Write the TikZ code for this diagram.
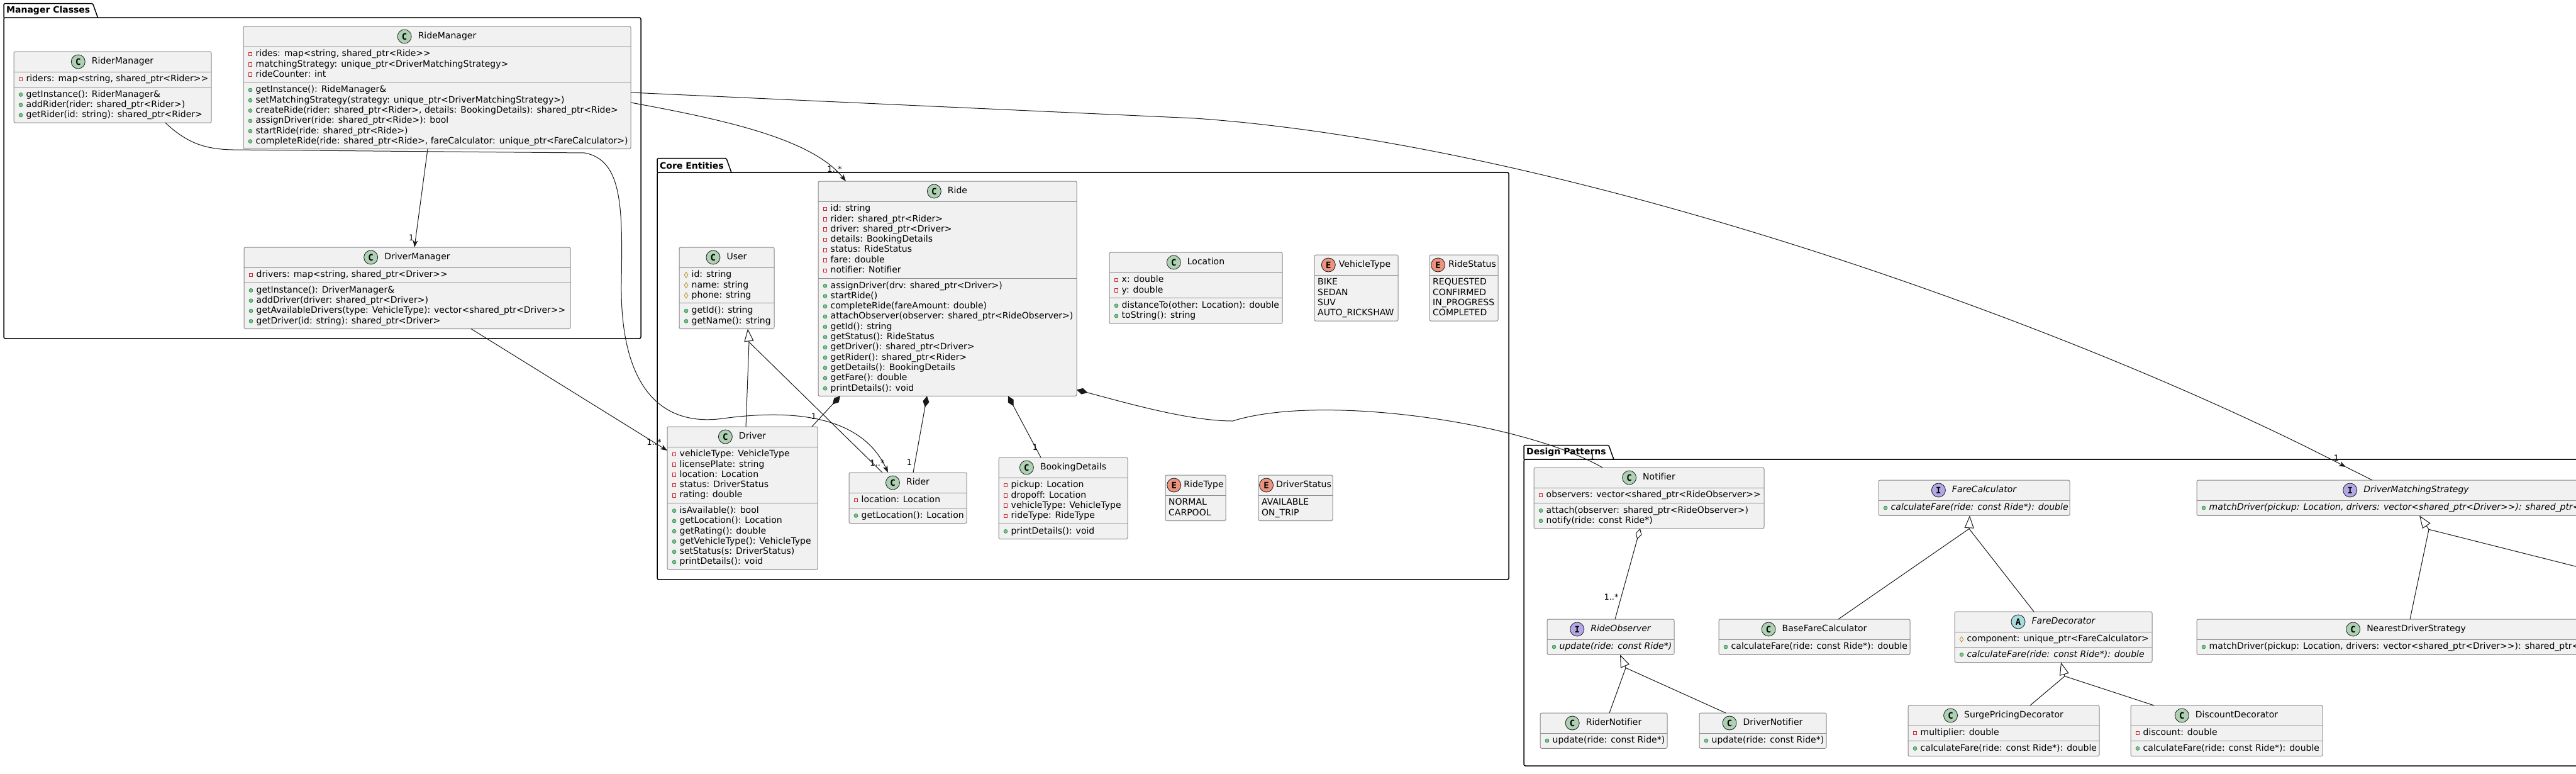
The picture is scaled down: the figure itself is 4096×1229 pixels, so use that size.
\documentclass[tikz,border=0pt]{standalone}
\usepackage{fontspec}
\setmainfont[Ligatures={TeXOff,CommonOff}]{DejaVu Sans}
\newfontfamily\iconfont{DejaVu Sans Mono}
\usetikzlibrary{arrows.meta,shapes.geometric,positioning,calc}
\definecolor{boxfill}{HTML}{F1F1F1}
\definecolor{boxline}{HTML}{8A8A8A}
\definecolor{linec}{HTML}{181818}
\definecolor{cfill}{HTML}{ADD1B2}
\definecolor{ifill}{HTML}{B4A7E5}
\definecolor{afill}{HTML}{A9DCDF}
\definecolor{efill}{HTML}{EB937F}
\definecolor{privred}{HTML}{C82930}
\definecolor{pubfill}{HTML}{84BE84}
\definecolor{publine}{HTML}{038048}
\definecolor{protline}{HTML}{B38D22}
\tikzset{
    cls/.style={draw=boxline, fill=boxfill, line width=1pt, rounded corners=2.5pt, anchor=north west, inner sep=0pt, outer sep=0pt},
    cmpline/.style={draw=boxline, line width=1pt},
    clsname/.style={inner sep=0pt, text height=10.4pt, text depth=2.9pt, font=\fontsize{14}{16}\selectfont},
    itname/.style={font=\fontsize{14}{16}\selectfont\itshape},
    icon/.style={circle, draw=linec, line width=0.8pt, minimum size=22pt, inner sep=0pt, font=\iconfont\bfseries\fontsize{14}{14}\selectfont},
    member/.style={anchor=west, inner sep=0pt, text height=10.4pt, text depth=2.9pt, font=\fontsize{14}{16}\selectfont},
    vm-priv/.style={draw=privred, line width=0.8pt, minimum size=5.5pt, inner sep=0pt},
    vm-pub/.style={circle, fill=pubfill, draw=publine, line width=0.5pt, minimum size=6pt, inner sep=0pt},
    vm-pubi/.style={vm-pub},
    vm-prot/.style={diamond, draw=protline, line width=0.8pt, minimum width=6pt, minimum height=9pt, inner sep=0pt},
    vm-none/.style={},
    tx-priv/.style={}, tx-pub/.style={}, tx-prot/.style={},
    tx-pubi/.style={font=\fontsize{14}{16}\selectfont\itshape},
    tx-none/.style={xshift=-14.5pt},
    conn/.style={draw=linec, line width=1pt},
    assoc/.style={conn, -{Stealth[length=11pt, width=8pt, inset=3pt]}},
    inherit/.style={conn, -{Triangle[length=20pt, width=15pt, fill=white]}},
    compose/.style={conn, {Diamond[length=18pt, width=10pt]}-},
    aggreg/.style={conn, {Diamond[length=18pt, width=10pt, fill=white]}-},
    mult/.style={inner sep=0pt, font=\fontsize{13}{13}\selectfont},
    pkg/.style={draw=black, line width=1.5pt},
    pkgtitle/.style={anchor=south west, inner xsep=4pt, inner ysep=0pt, minimum height=22pt, font=\bfseries\fontsize{14}{16}\selectfont}
}
\newcommand{\clshead}[6][10]{%
  \node[clsname, #5] (#2-t) at ([xshift={(22+#1)/2}, yshift=-16pt]#2.north) {#6};
  \node[icon, fill=#3, left=#1pt of #2-t] {#4};
}
\newcommand{\clssep}[2]{\draw[cmpline] ([yshift=-#2pt]#1.north west) -- ([yshift=-#2pt]#1.north east);}
\newcommand{\clsrows}[3]{%
  \foreach \vis/\txt [count=\k from 0] in {#3} {%
    \node[vm-\vis] at ([xshift=11pt, yshift={-(#2+\k*16.3)}]#1.north west) {};
    \node[member, tx-\vis] at ([xshift=19.5pt, yshift={-(#2+\k*16.3)}]#1.north west) {\txt};
  }%
}

\begin{document}
\begin{tikzpicture}[x=1pt, y=-1pt]
    \useasboundingbox (0,0) rectangle (4096,1229);
    \clip (0,0) rectangle (4096,1229);
    \fill[white] (0,0) rectangle (4096,1229);

    \node[pkgtitle] (pmgr) at (6,28) {Manager Classes};
    \draw[pkg, rounded corners=1.5pt] (pmgr.south west) -- (pmgr.north west) -- (pmgr.north east) -- ([xshift=8pt]pmgr.south east);
    \draw[pkg, rounded corners=2.5pt] (pmgr.south west) rectangle (1019,538);
    \node[pkgtitle] (pcore) at (1045,274) {Core Entities};
    \draw[pkg, rounded corners=1.5pt] (pcore.south west) -- (pcore.north west) -- (pcore.north east) -- ([xshift=8pt]pcore.south east);
    \draw[pkg, rounded corners=2.5pt] (pcore.south west) rectangle (2399,921);
    \node[pkgtitle] (pdes) at (2423,730) {Design Patterns};
    \draw[pkg, rounded corners=1.5pt] (pdes.south west) -- (pdes.north west) -- (pdes.north east) -- ([xshift=8pt]pdes.south east);
    \draw[pkg, rounded corners=2.5pt] (pdes.south west) rectangle (4150,1217);

    \node[cls, minimum width=314pt, minimum height=113.2pt] (rdmgr) at (22,82) {};
    \clshead{rdmgr}{cfill}{C}{}{RiderManager}
    \clssep{rdmgr}{32} \clssep{rdmgr}{56.3}
    \clsrows{rdmgr}{44}{priv/{riders: map<string, shared\_ptr<Rider>>}}
    \clsrows{rdmgr}{68.45}{pub/{getInstance(): RiderManager\&}, pub/{addRider(rider: shared\_ptr<Rider>)}, pub/{getRider(id: string): shared\_ptr<Rider>}}

    \node[cls, minimum width=616pt, minimum height=194.7pt] (rmgr) at (387,42) {};
    \clshead{rmgr}{cfill}{C}{}{RideManager}
    \clssep{rmgr}{32} \clssep{rmgr}{88.9}
    \clsrows{rmgr}{44}{priv/{rides: map<string, shared\_ptr<Ride>>}, priv/{matchingStrategy: unique\_ptr<DriverMatchingStrategy>}, priv/{rideCounter: int}}
    \clsrows{rmgr}{101.05}{pub/{getInstance(): RideManager\&}, pub/{setMatchingStrategy(strategy: unique\_ptr<DriverMatchingStrategy>)}, pub/{createRide(rider: shared\_ptr<Rider>, details: BookingDetails): shared\_ptr<Ride>}, pub/{assignDriver(ride: shared\_ptr<Ride>): bool}, pub/{startRide(ride: shared\_ptr<Ride>)}, pub/{completeRide(ride: shared\_ptr<Ride>, fareCalculator: unique\_ptr<FareCalculator>)}}

    \node[cls, minimum width=519pt, minimum height=129.5pt] (dmgr) at (388,393) {};
    \clshead{dmgr}{cfill}{C}{}{DriverManager}
    \clssep{dmgr}{32} \clssep{dmgr}{56.3}
    \clsrows{dmgr}{44}{priv/{drivers: map<string, shared\_ptr<Driver>>}}
    \clsrows{dmgr}{68.45}{pub/{getInstance(): DriverManager\&}, pub/{addDriver(driver: shared\_ptr<Driver>)}, pub/{getAvailableDrivers(type: VehicleType): vector<shared\_ptr<Driver>>}, pub/{getDriver(id: string): shared\_ptr<Driver>}}

    \node[cls, minimum width=151pt, minimum height=129.5pt] (user) at (1080,393) {};
    \clshead{user}{cfill}{C}{}{User}
    \clssep{user}{32} \clssep{user}{88.9}
    \clsrows{user}{44}{prot/{id: string}, prot/{name: string}, prot/{phone: string}}
    \clsrows{user}{101.05}{pub/{getId(): string}, pub/{getName(): string}}

    \node[cls, minimum width=411pt, minimum height=341.4pt] (ride) at (1301,288) {};
    \clshead{ride}{cfill}{C}{}{Ride}
    \clssep{ride}{32} \clssep{ride}{154.1}
    \clsrows{ride}{44}{priv/{id: string}, priv/{rider: shared\_ptr<Rider>}, priv/{driver: shared\_ptr<Driver>}, priv/{details: BookingDetails}, priv/{status: RideStatus}, priv/{fare: double}, priv/{notifier: Notifier}}
    \clsrows{ride}{166.25}{pub/{assignDriver(drv: shared\_ptr<Driver>)}, pub/{startRide()}, pub/{completeRide(fareAmount: double)}, pub/{attachObserver(observer: shared\_ptr<RideObserver>)}, pub/{getId(): string}, pub/{getStatus(): RideStatus}, pub/{getDriver(): shared\_ptr<Driver>}, pub/{getRider(): shared\_ptr<Rider>}, pub/{getDetails(): BookingDetails}, pub/{getFare(): double}, pub/{printDetails(): void}}

    \node[cls, minimum width=275pt, minimum height=113.2pt] (loc) at (1764,401) {};
    \clshead{loc}{cfill}{C}{}{Location}
    \clssep{loc}{32} \clssep{loc}{72.6}
    \clsrows{loc}{44}{priv/{x: double}, priv/{y: double}}
    \clsrows{loc}{84.75}{pub/{distanceTo(other: Location): double}, pub/{toString(): string}}

    \node[cls, minimum width=133pt, minimum height=105.2pt] (vtype) at (2090,405) {};
    \clshead[5]{vtype}{efill}{E}{}{VehicleType}
    \clssep{vtype}{32}
    \clsrows{vtype}{44}{none/BIKE, none/SEDAN, none/SUV, none/{AUTO\_RICKSHAW}}

    \node[cls, minimum width=109pt, minimum height=105.2pt] (rstatus) at (2273,405) {};
    \clshead[5]{rstatus}{efill}{E}{}{RideStatus}
    \clssep{rstatus}{32}
    \clsrows{rstatus}{44}{none/REQUESTED, none/CONFIRMED, none/{IN\_PROGRESS}, none/COMPLETED}

    \node[cls, minimum width=239pt, minimum height=227.3pt] (driver) at (1061,678) {};
    \clshead{driver}{cfill}{C}{}{Driver}
    \clssep{driver}{32} \clssep{driver}{121.5}
    \clsrows{driver}{44}{priv/{vehicleType: VehicleType}, priv/{licensePlate: string}, priv/{location: Location}, priv/{status: DriverStatus}, priv/{rating: double}}
    \clsrows{driver}{133.65}{pub/{isAvailable(): bool}, pub/{getLocation(): Location}, pub/{getRating(): double}, pub/{getVehicleType(): VehicleType}, pub/{setStatus(s: DriverStatus)}, pub/{printDetails(): void}}

    \node[cls, minimum width=187pt, minimum height=80.6pt] (rider) at (1350,751) {};
    \clshead{rider}{cfill}{C}{}{Rider}
    \clssep{rider}{32} \clssep{rider}{56.3}
    \clsrows{rider}{44}{priv/{location: Location}}
    \clsrows{rider}{68.45}{pub/{getLocation(): Location}}

    \node[cls, minimum width=205pt, minimum height=129.5pt] (bkg) at (1588,727) {};
    \clshead{bkg}{cfill}{C}{}{BookingDetails}
    \clssep{bkg}{32} \clssep{bkg}{105.2}
    \clsrows{bkg}{44}{priv/{pickup: Location}, priv/{dropoff: Location}, priv/{vehicleType: VehicleType}, priv/{rideType: RideType}}
    \clsrows{bkg}{117.35}{pub/{printDetails(): void}}

    \node[cls, minimum width=96pt, minimum height=72.6pt] (rtype) at (1853,755) {};
    \clshead[4]{rtype}{efill}{E}{}{RideType}
    \clssep{rtype}{32}
    \clsrows{rtype}{44}{none/NORMAL, none/CARPOOL}

    \node[cls, minimum width=118pt, minimum height=72.6pt] (dstatus) at (2001,755) {};
    \clshead[4]{dstatus}{efill}{E}{}{DriverStatus}
    \clssep{dstatus}{32}
    \clsrows{dstatus}{44}{none/AVAILABLE, none/{ON\_TRIP}}

    \node[cls, minimum width=366pt, minimum height=96.9pt] (notif) at (2439,743) {};
    \clshead{notif}{cfill}{C}{}{Notifier}
    \clssep{notif}{32} \clssep{notif}{56.3}
    \clsrows{notif}{44}{priv/{observers: vector<shared\_ptr<RideObserver>>}}
    \clsrows{notif}{68.45}{pub/{attach(observer: shared\_ptr<RideObserver>)}, pub/{notify(ride: const Ride*)}}

    \node[cls, minimum width=202pt, minimum height=56.3pt] (robs) at (2460,984) {};
    \clshead{robs}{ifill}{I}{itname}{RideObserver}
    \clssep{robs}{32}
    \clsrows{robs}{44}{pubi/{update(ride: const Ride*)}}

    \node[cls, minimum width=304pt, minimum height=56.3pt] (bfc) at (2733,984) {};
    \clshead{bfc}{cfill}{C}{}{BaseFareCalculator}
    \clssep{bfc}{32}
    \clsrows{bfc}{44}{pub/{calculateFare(ride: const Ride*): double}}

    \node[cls, minimum width=202pt, minimum height=56.3pt] (rnot) at (2449,1133) {};
    \clshead{rnot}{cfill}{C}{}{RiderNotifier}
    \clssep{rnot}{32}
    \clsrows{rnot}{44}{pub/{update(ride: const Ride*)}}

    \node[cls, minimum width=202pt, minimum height=56.3pt] (dnot) at (2702,1133) {};
    \clshead{dnot}{cfill}{C}{}{DriverNotifier}
    \clssep{dnot}{32}
    \clsrows{dnot}{44}{pub/{update(ride: const Ride*)}}

    \node[cls, minimum width=304pt, minimum height=56.3pt] (fcalc) at (2987,763) {};
    \clshead{fcalc}{ifill}{I}{itname}{FareCalculator}
    \clssep{fcalc}{32}
    \clsrows{fcalc}{44}{pubi/{calculateFare(ride: const Ride*): double}}

    \node[cls, minimum width=314pt, minimum height=80.6pt] (fdec) at (3108,972) {};
    \clshead{fdec}{afill}{A}{itname}{FareDecorator}
    \clssep{fdec}{32} \clssep{fdec}{56.3}
    \clsrows{fdec}{44}{prot/{component: unique\_ptr<FareCalculator>}}
    \clsrows{fdec}{68.45}{pubi/{calculateFare(ride: const Ride*): double}}

    \node[cls, minimum width=304pt, minimum height=80.6pt] (surge) at (3034,1121) {};
    \clshead{surge}{cfill}{C}{}{SurgePricingDecorator}
    \clssep{surge}{32} \clssep{surge}{56.3}
    \clsrows{surge}{44}{priv/{multiplier: double}}
    \clsrows{surge}{68.45}{pub/{calculateFare(ride: const Ride*): double}}

    \node[cls, minimum width=305pt, minimum height=80.6pt] (disc) at (3388,1121) {};
    \clshead{disc}{cfill}{C}{}{DiscountDecorator}
    \clssep{disc}{32} \clssep{disc}{56.3}
    \clsrows{disc}{44}{priv/{discount: double}}
    \clsrows{disc}{68.45}{pub/{calculateFare(ride: const Ride*): double}}

    \node[cls, minimum width=666pt, minimum height=56.3pt] (dms) at (3493,763) {};
    \clshead{dms}{ifill}{I}{itname}{DriverMatchingStrategy}
    \clssep{dms}{32}
    \clsrows{dms}{44}{pubi/{matchDriver(pickup: Location, drivers: vector<shared\_ptr<Driver>>): shared\_ptr<Driver>}}

    \node[cls, minimum width=666pt, minimum height=56.3pt] (nds) at (3493,984) {};
    \clshead{nds}{cfill}{C}{}{NearestDriverStrategy}
    \clssep{nds}{32}
    \clsrows{nds}{44}{pub/{matchDriver(pickup: Location, drivers: vector<shared\_ptr<Driver>>): shared\_ptr<Driver>}}

    \draw[assoc] ([xshift=293pt]rmgr.south west) -- node[mult, at end, xshift=-5pt, yshift=15pt] {1} ([xshift=271pt]dmgr.north west);
    \draw[assoc] ([yshift=-121pt]rmgr.north east) .. controls +(147,27) and +(-55,-68) .. node[mult, at end, xshift=-18pt, yshift=19pt] {1..*} ([xshift=44pt]ride.north west);
    \coordinate (dmsarr) at ([xshift=-96pt, yshift=21pt]dms.north);
    \draw[assoc] ([yshift=-105pt]rmgr.north east) -- ++(897,41) .. controls +(600,42) and +(-430,-222) .. node[mult, at end, xshift=-15pt, yshift=14pt] {1} (dmsarr);
    \draw[conn] (dmsarr) -- ([xshift=-54pt]dms.north);
    \draw[assoc] ([xshift=241pt]rdmgr.south west) .. controls (300,230) and (330,237) .. (370,238) -- (930,243) .. controls (990,255) and (990,330) .. (988,450) .. controls (986,600) and (1040,680) .. (1150,665) .. controls (1260,650) and (1370,660) .. node[mult, at end, xshift=-17pt, yshift=15pt] {1..*} ([xshift=62pt]rider.north west);
    \draw[assoc] ([xshift=361pt]dmgr.south west) -- node[mult, at end, xshift=-21pt, yshift=13pt] {1..*} ([yshift=-38pt]driver.north west);

    \draw[compose] ([xshift=35pt]ride.south west) -- node[mult, at end, xshift=3pt, yshift=16pt] {1} ([xshift=230pt]driver.north west);
    \draw[compose] ([xshift=173pt]ride.south west) -- node[mult, at end, xshift=-6pt, yshift=16pt] {1} ([xshift=102pt]rider.north west);
    \draw[compose] ([xshift=302pt]ride.south west) -- node[mult, at end, xshift=-9pt, yshift=16pt] {1} ([xshift=67pt]bkg.north west);
    \draw[compose] ([yshift=10pt]ride.south east) .. controls (1790,640) and (1890,669) .. (1960,669) .. controls (2100,625) and (2420,670) .. node[mult, at end, xshift=-16pt, yshift=17pt] {1} ([xshift=109pt]notif.north west);
    \draw[aggreg] ([xshift=169pt]notif.south west) -- node[mult, at end, xshift=-6pt, yshift=35pt] {1..*} ([xshift=108pt]robs.north west);

    \coordinate (userbase) at ([xshift=35.5pt, yshift=-21pt]user.south);
    \draw[inherit] ([xshift=5.5pt]driver.north) -- (userbase) -- ([xshift=33.5pt]user.south);
    \draw[conn] ([xshift=-40.5pt]rider.north) -- (userbase);
    \coordinate (robsbase) at ([xshift=24pt, yshift=-21pt]robs.south);
    \draw[inherit] ([xshift=9pt]rnot.north) -- (robsbase) -- ([xshift=15pt]robs.south);
    \draw[conn] ([xshift=-59pt]dnot.north) -- (robsbase);
    \coordinate (fcbase) at ([xshift=-8pt, yshift=-21pt]fcalc.south);
    \draw[inherit] ([xshift=38pt]bfc.north) -- (fcbase) -- ([xshift=-7pt]fcalc.south);
    \draw[conn] ([xshift=-31pt]fdec.north) -- (fcbase);
    \coordinate (fdbase) at ([xshift=18pt, yshift=-22pt]fdec.south);
    \draw[inherit] ([xshift=42pt]surge.north) -- (fdbase) -- ([xshift=12pt]fdec.south);
    \draw[conn] ([xshift=-115.5pt]disc.north) -- (fdbase);
    \coordinate (dmsbase) at ([xshift=36pt, yshift=-22pt]dms.south);
    \draw[inherit] ([xshift=6pt]nds.north) -- (dmsbase) -- ([xshift=21pt]dms.south);
    \coordinate (offcls) at (4250,939);
    \draw[conn] (offcls) -- (dmsbase);
\end{tikzpicture}
\end{document}
